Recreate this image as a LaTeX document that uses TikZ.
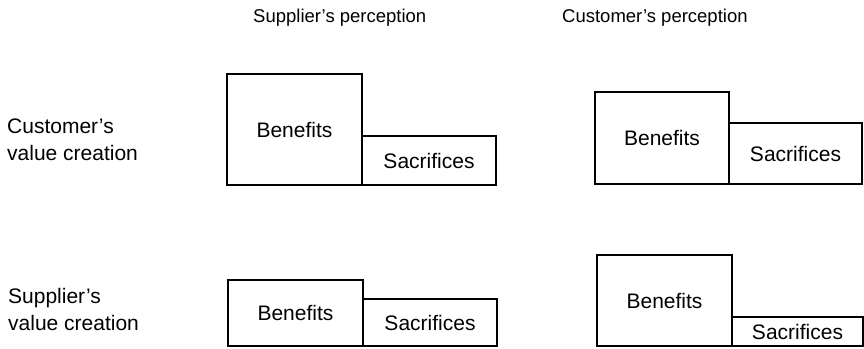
\documentclass[tikz,border=0pt]{standalone}
\usepackage{fontspec}
\setmainfont{Liberation Sans}
\begin{document}
\begin{tikzpicture}[x=1pt,y=-1pt,
  part/.style={draw=black, line width=1.5pt, inner sep=0pt, font=\fontsize{21}{25}\selectfont},
  head/.style={anchor=base west, inner sep=0pt, font=\fontsize{18.5}{22}\selectfont},
  side/.style={anchor=north west, inner sep=0pt, align=left, font=\fontsize{21}{27}\selectfont}]
\useasboundingbox (0,0) rectangle (864,348);

% column headings
\node[head] (hsup) at (253,23) {Supplier’s perception};
\node[head] (hcus) at (562,23) {Customer’s perception};

% row headings
\node[side] (rcus) at (7,119) {Customer’s\\value creation};
\node[side] (rsup) at (8,288) {Supplier’s\\value creation};

% customer's value creation, supplier's perception
\node[part, minimum width=135, minimum height=111] (b1) at (294.5,129.5) {Benefits};
\node[part, minimum width=134, minimum height=49] (s1) at (429,160.5) {Sacrifices};

% customer's value creation, customer's perception
\node[part, minimum width=134, minimum height=92] (b2) at (662,138) {Benefits};
\node[part, minimum width=133, minimum height=61] (s2) at (795.5,153.5) {Sacrifices};

% supplier's value creation, supplier's perception
\node[part, minimum width=135, minimum height=66] (b3) at (295.5,313) {Benefits};
\node[part, minimum width=134, minimum height=47] (s3) at (430,322.5) {Sacrifices};

% supplier's value creation, customer's perception
\node[part, minimum width=135, minimum height=91] (b4) at (664.5,300.5) {Benefits};
\node[part, minimum width=131, minimum height=29] (s4) at (797.5,331.5) {Sacrifices};
\end{tikzpicture}
\end{document}
